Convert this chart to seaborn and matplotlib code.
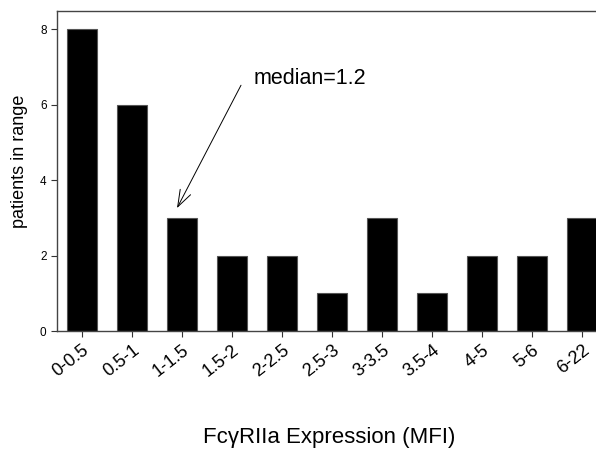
import matplotlib
matplotlib.use("Agg")
import matplotlib.pyplot as plt
import seaborn as sns
import pandas as pd

categories = ["0-0.5", "0.5-1", "1-1.5", "1.5-2", "2-2.5", "2.5-3", "3-3.5", "3.5-4", "4-5", "5-6", "6-22"]
patients = [8, 6, 3, 2, 2, 1, 3, 1, 2, 2, 3]
yticks = [0, 2, 4, 6, 8]

sns.set_theme(style="white")
plt.rcParams['font.family'] = ['Liberation Sans', 'DejaVu Sans']
plt.rcParams['text.color'] = 'black'
plt.rcParams['axes.labelcolor'] = 'black'
plt.rcParams['xtick.color'] = 'black'
plt.rcParams['ytick.color'] = 'black'

df = pd.DataFrame({"range": categories, "n": patients})

W, H = 596, 454
fig = plt.figure(figsize=(W / 100, H / 100), dpi=100)
ax = fig.add_axes([57 / W, 123 / H, 550 / W, 320 / H])

sns.barplot(data=df, x="range", y="n", color="black", width=0.6,
            edgecolor="#555555", linewidth=0.8, saturation=1, ax=ax)

ax.set_xlim(-0.5, 10.5)
ax.set_ylim(0, 8.49)
ax.set_yticks(yticks)
ax.set_yticklabels([str(v) for v in yticks], fontsize=8.5)
ax.tick_params(axis='both', which='both', direction='out', length=4, width=0.8,
               color='#333333', labelcolor='black', left=True, bottom=True, pad=3.5)
ax.set_xticks(range(len(categories)))
ax.set_xticklabels(categories, rotation=38, ha='right', rotation_mode='anchor', fontsize=13)

for s in ['left', 'bottom', 'top']:
    ax.spines[s].set_color('#444444')
    ax.spines[s].set_linewidth(1.0)
ax.spines['right'].set_visible(False)

ax.set_xlabel("")
ax.set_ylabel("patients in range", fontsize=13, color='black')
ax.yaxis.set_label_coords((20 - 57) / 550, (331 - 161) / 320)
ax.yaxis.label.set_verticalalignment('center')
fig.text(329 / W, 1 - 437 / H, "FcγRIIa Expression (MFI)", fontsize=16,
         ha='center', va='center', color='black')

ax.annotate("", xy=(1.9, 3.26), xytext=(3.18, 6.52),
            arrowprops=dict(arrowstyle="->,head_length=1.0,head_width=0.35",
                            color="black", lw=0.7, shrinkA=0, shrinkB=0))
ax.text(3.44, 6.7, "median=1.2", fontsize=15.5, ha='left', va='center', color='black')

fig.savefig("out.png", dpi=100)
